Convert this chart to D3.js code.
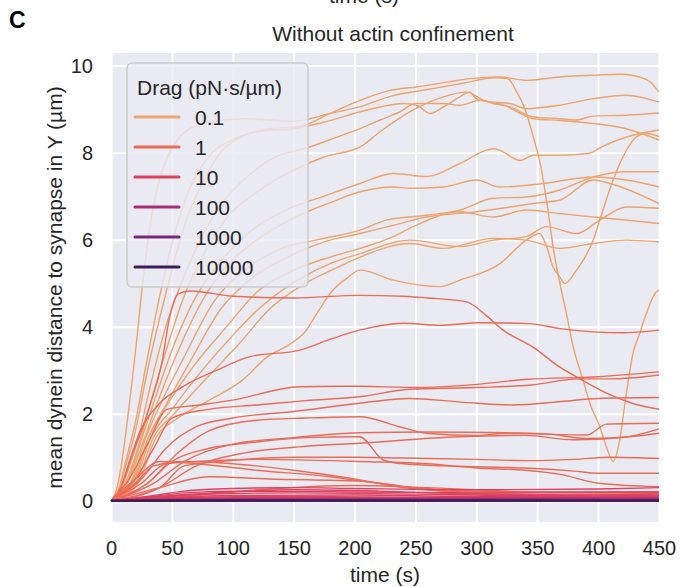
<!DOCTYPE html>
<html>
<head>
<meta charset="utf-8">
<script src="https://cdn.jsdelivr.net/npm/d3@7"></script>
<style>
  body { margin: 0; background: #fff; }
  svg { display: block; font-family: "Liberation Sans", Arial, sans-serif; }
</style>
</head>
<body>
<svg id="chart" width="683" height="587"></svg>
<script>
/* Dynein distance traces, one list per drag value; each trace is [time s, distance µm] */

const xTicks = [0, 50, 100, 150, 200, 250, 300, 350, 400, 450];
const yTicks = [0, 2, 4, 6, 8, 10];
const dragLabels = ["0.1", "1", "10", "100", "1000", "10000"];
const dragColors = ["#eda46e", "#ea6c58", "#dc4160", "#a82d76", "#76287d", "#3d1e58"];

const drag01 = [
  // plunging trace (dip to ~0.9 at 412 s)
  [[0,0],[5,0.3],[10,1.1],[15,2.2],[20,3.4],[26,5.0],[32,6.3],[40,7.4],[50,8.1],[62,8.5],[80,8.7],[110,8.78],[150,8.72],[180,8.9],[204,9.05],[230,9.3],[260,9.45],[290,9.6],[315,9.72],[325.6,9.7],[333.8,9.36],[339.3,9.05],[347.5,8.29],[353,7.68],[358.4,6.75],[363.9,5.68],[368.6,5.0],[374,4.3],[379.5,3.54],[387.7,2.77],[393.2,2.24],[401.4,1.7],[406.8,1.24],[412.3,0.9],[417.7,1.39],[423.2,2.47],[428.6,3.38],[434.1,3.84],[439.6,4.3],[447.8,4.8],[450,4.84]],
  // top trace
  [[0,0],[6,0.2],[12,0.8],[20,1.6],[30,3.0],[40,4.2],[50,5.3],[60,6.3],[75,7.3],[90,8.0],[110,8.4],[130,8.55],[155,8.6],[180,8.9],[204.5,9.2],[229,9.43],[251,9.51],[275.8,9.62],[294.6,9.7],[319,9.74],[341,9.66],[368.6,9.74],[396,9.78],[418,9.8],[440,9.68],[450,9.39]],
  [[0,0],[6,0.25],[12,0.9],[20,1.8],[30,3.3],[40,4.7],[50,5.9],[62,7.0],[80,7.9],[100,8.3],[125,8.5],[150,8.55],[175,8.7],[204.5,8.94],[221,9.05],[240,9.13],[251,9.09],[262,8.9],[273,9.05],[286.5,9.28],[294.6,9.39],[300,9.24],[314,9.16],[327.6,9.13],[341,9.01],[368.6,9.09],[396,9.24],[423,9.32],[450,9.16]],
  [[0,0],[7,0.2],[14,0.7],[22,1.4],[32,2.6],[45,4.0],[55,4.8],[70,5.8],[90,6.8],[110,7.4],[135,7.9],[160,8.1],[185,8.35],[204.5,8.55],[221,8.75],[237.5,8.94],[249.6,9.13],[273,9.13],[286.5,9.09],[303,9.2],[314,9.13],[327.6,9.05],[346.7,8.82],[368.6,8.78],[382,8.75],[396,8.84],[423,8.86],[450,8.91]],
  [[0,0],[8,0.2],[16,0.7],[24,1.4],[35,2.5],[48,3.7],[60,4.7],[75,5.6],[95,6.5],[120,7.1],[150,7.6],[175,7.9],[204.5,8.13],[221,8.48],[245.6,8.94],[273,9.28],[292,9.39],[306,9.2],[322.6,9.09],[347,8.78],[368.6,8.74],[396,8.67],[423,8.55],[450,8.29]],
  [[0,0],[8,0.15],[17,0.7],[25,1.4],[38,2.5],[52,3.6],[70,4.7],[90,5.5],[115,6.2],[145,6.7],[175,7.0],[204.5,7.29],[231.8,7.52],[259,7.45],[286.5,7.75],[313.9,8.09],[319.4,8.05],[335.8,7.82],[346.7,7.94],[368.6,7.94],[392,7.98],[405,8.16],[423.4,8.36],[450,8.52]],
  [[0,0],[9,0.15],[18,0.7],[27,1.4],[40,2.4],[56,3.5],[75,4.6],[95,5.4],[120,6.0],[150,6.5],[180,6.85],[204.5,7.1],[231.8,7.21],[245.5,7.18],[273,7.21],[300,7.37],[319.4,7.21],[355,7.29],[396,7.44],[423,7.37],[450,7.21]],
  [[0,0],[9,0.12],[19,0.6],[28,1.4],[42,2.3],[60,3.3],[85,4.6],[110,5.3],[140,5.8],[170,6.0],[204.5,6.22],[226.4,6.45],[259,6.56],[286.5,6.68],[313.9,6.95],[341,6.98],[368.6,7.14],[396,7.44],[423.4,7.56],[450,7.56]],
  [[0,0],[10,0.12],[20,0.6],[30,1.4],[45,2.2],[65,3.2],[90,4.4],[115,5.1],[145,5.6],[175,5.95],[204.5,6.14],[231.8,6.33],[259,6.52],[300,6.64],[327.6,6.75],[346.7,6.83],[368.6,6.91],[396,7.37],[409.7,7.29],[450,6.83]],
  [[0,0],[10,0.1],[21,0.6],[30,1.4],[46,2.2],[68,3.1],[95,4.0],[120,4.8],[150,5.3],[180,5.6],[204.5,5.8],[231.8,6.07],[248.2,6.3],[286.5,6.64],[313.9,6.52],[341,6.68],[368.6,6.6],[396,6.52],[423,6.45],[450,6.37]],
  [[0,0],[11,0.1],[22,0.6],[32,1.4],[50,2.1],[75,3.0],[100,3.8],[125,4.5],[155,5.1],[180,5.45],[204.5,5.68],[245.5,5.99],[286.5,5.84],[313.9,5.99],[341,6.07],[357.7,6.3],[382.3,6.14],[401.4,6.45],[423.4,6.75],[450,6.72]],
  [[0,0],[11,0.1],[23,0.55],[34,1.4],[52,2.0],[78,2.8],[105,3.6],[130,4.4],[160,5.0],[185,5.35],[204.5,5.6],[245.5,5.91],[273,5.8],[313.9,6.03],[341,5.99],[368.6,5.8],[396,5.91],[423,5.99],[450,5.95]],
  // slow riser that dips to ~5 at 373 s
  [[0,0],[12,0.1],[24,0.5],[36,1.4],[55,1.9],[80,2.3],[108,2.77],[128,3.3],[147,3.6],[160,3.9],[169,4.3],[182,4.83],[193,5.1],[204.5,5.3],[231.8,5.07],[270,4.92],[286.5,5.07],[319.4,5.45],[341,5.99],[352,6.14],[357.7,5.84],[363,5.37],[368.6,5.14],[372.7,4.99],[382.3,5.3],[396,5.99],[401.4,6.45],[412.3,7.37],[423.4,8.06],[431.6,8.37],[439.8,8.44],[450,8.37]]
];

const drag1 = [
  [[0,0],[8,0.3],[18,1.1],[25,1.6],[32,2.2],[42,3.2],[48,4.2],[55,4.75],[65,4.82],[100,4.7],[150,4.66],[204,4.72],[240,4.7],[260,4.66],[292,4.57],[308,4.26],[322,3.92],[346,3.54],[368,3.08],[387,2.77],[407,2.47],[428,2.24],[450,2.1]],
  [[0,0],[8,0.3],[15,0.9],[24,1.6],[40,2.24],[59,2.62],[87,3.0],[114,3.31],[155,3.46],[182,3.73],[204,3.92],[240,4.08],[270,4.03],[303,4.09],[343,4.07],[370,3.95],[396,3.88],[420,3.86],[450,3.92]],
  [[0,0],[15,0.5],[30,1.3],[46,2.1],[73,2.2],[100,2.31],[155,2.62],[204,2.63],[250,2.6],[290,2.65],[342,2.79],[400,2.85],[450,2.96]],
  [[0,0],[20,0.5],[35,1.2],[50,1.9],[80,2.1],[120,2.2],[160,2.3],[204,2.39],[245,2.56],[300,2.6],[345,2.66],[385,2.8],[410,2.8],[450,2.89]],
  [[0,0],[25,0.5],[45,1.2],[70,1.7],[100,1.9],[150,2.05],[204,2.24],[245,2.35],[290,2.26],[330,2.2],[370,2.28],[400,2.35],[450,2.37]],
  [[0,0],[30,0.4],[55,1.1],[80,1.6],[120,1.85],[160,1.9],[204,1.93],[237,1.7],[259,1.55],[300,1.5],[325,1.55],[391,1.51],[407,1.76],[450,1.78]],
  [[0,0],[35,0.4],[60,0.9],[100,1.3],[150,1.45],[204,1.56],[260,1.58],[325,1.56],[360,1.53],[390,1.43],[430,1.48],[450,1.55]],
  [[0,0],[40,0.3],[70,0.8],[110,1.1],[160,1.25],[204,1.32],[285,1.47],[340,1.5],[380,1.4],[420,1.45],[450,1.65]],
  [[0,0],[40,0.3],[60,0.8],[90,0.9],[150,1.0],[204,1.0],[240,0.98],[300,0.95],[342,0.92],[380,0.95],[410,1.0],[450,0.97]],
  [[0,0],[30,0.4],[50,0.9],[80,1.2],[120,1.35],[160,1.45],[204,1.47],[224,0.93],[240,0.85],[300,0.78],[340,0.75],[380,0.68],[400,0.63],[450,0.63]],
  [[0,0],[25,0.4],[45,0.85],[70,0.9],[120,0.95],[180,0.92],[204,0.9],[260,0.85],[300,0.75],[340,0.7],[370,0.6],[400,0.4],[450,0.32]],
  [[0,0],[40,0.3],[80,0.55],[130,0.5],[204,0.45],[250,0.3],[300,0.22],[450,0.17]],
  [[0,0],[20,0.5],[40,0.9],[70,0.85],[120,0.7],[180,0.55],[220,0.4],[260,0.25],[320,0.15],[450,0.12]],
  [[0,0],[20,0.4],[35,0.8],[60,0.9],[100,0.85],[150,0.7],[200,0.5],[240,0.3],[300,0.2],[450,0.18]],
  [[0,0],[60,0.1],[120,0.25],[200,0.35],[260,0.3],[350,0.2],[450,0.2]]
];

const drag10 = [
  [[0,0],[30,0.1],[60,0.22],[100,0.28],[150,0.3],[200,0.28],[300,0.25],[400,0.27],[450,0.3]],
  [[0,0],[30,0.08],[60,0.18],[100,0.22],[200,0.2],[300,0.18],[450,0.2]],
  [[0,0],[40,0.08],[80,0.15],[150,0.18],[250,0.15],[350,0.12],[450,0.15]],
  [[0,0],[40,0.06],[100,0.12],[200,0.13],[300,0.1],[450,0.1]],
  [[0,0],[50,0.05],[120,0.1],[250,0.08],[450,0.08]],
  [[0,0],[30,0.05],[100,0.08],[300,0.06],[450,0.06]],
  [[0,0],[50,0.12],[100,0.2],[150,0.25],[220,0.22],[300,0.15],[450,0.12]],
  [[0,0],[60,0.04],[200,0.05],[450,0.05]]
];

const drag100 = [
  [[0,0],[80,0.04],[200,0.05],[450,0.06]],
  [[0,0],[100,0.03],[300,0.04],[450,0.04]],
  [[0,0],[150,0.02],[450,0.03]]
];

const drag1000 = [
  [[0,0],[150,0.015],[450,0.02]],
  [[0,0],[200,0.01],[450,0.01]]
];

const drag10000 = [
  [[0,0],[450,0.005]],
  [[0,0],[450,-0.005]],
  [[0,0],[450,0]]
];

const groups = [drag01, drag1, drag10, drag100, drag1000, drag10000];

/* ---------- layout ---------- */
const svg = d3.select("#chart");
const plot = { left: 111, right: 659, top: 53, bottom: 522 };
const ink = "#262626";
const fsTick = 20, fsLabel = 21;

const x = d3.scaleLinear().domain([0, 450]).range([plot.left, plot.right]);
const y = d3.scaleLinear().domain([-0.49, 10.29]).range([plot.bottom, plot.top]);

svg.append("rect")
  .attr("x", plot.left).attr("y", plot.top)
  .attr("width", plot.right - plot.left).attr("height", plot.bottom - plot.top)
  .attr("fill", "#eaeaf2");

// grid
svg.append("g")
  .attr("transform", `translate(0,${plot.bottom})`)
  .call(d3.axisBottom(x).tickValues(xTicks).tickSize(-(plot.bottom - plot.top)).tickFormat(""))
  .call(g => g.select(".domain").remove())
  .call(g => g.selectAll("line").attr("stroke", "#fff").attr("stroke-width", 2));
svg.append("g")
  .attr("transform", `translate(${plot.left},0)`)
  .call(d3.axisLeft(y).tickValues(yTicks).tickSize(-(plot.right - plot.left)).tickFormat(""))
  .call(g => g.select(".domain").remove())
  .call(g => g.selectAll("line").attr("stroke", "#fff").attr("stroke-width", 2));

// traces
const line = d3.line().x(d => x(d[0])).y(d => y(d[1])).curve(d3.curveMonotoneX);
const gLines = svg.append("g");
groups.forEach((traces, i) => {
  gLines.append("g").selectAll("path")
    .data(traces)
    .join("path")
    .attr("d", line)
    .attr("fill", "none")
    .attr("stroke", dragColors[i])
    .attr("stroke-width", i === 5 ? 2 : 1.4)
    .attr("stroke-linejoin", "round");
});

// tick labels
svg.append("g")
  .attr("transform", `translate(0,${plot.bottom})`)
  .call(d3.axisBottom(x).tickValues(xTicks).tickSize(0).tickPadding(19))
  .call(g => g.select(".domain").remove())
  .call(g => g.selectAll("text").attr("fill", ink).attr("font-size", fsTick).attr("font-family", null));
svg.append("g")
  .attr("transform", `translate(${plot.left},0)`)
  .call(d3.axisLeft(y).tickValues(yTicks).tickSize(0).tickPadding(18))
  .call(g => g.select(".domain").remove())
  .call(g => g.selectAll("text").attr("fill", ink).attr("font-size", fsTick).attr("font-family", null));

// labels
svg.append("text")
  .attr("x", (plot.left + plot.right) / 2).attr("y", 582)
  .attr("text-anchor", "middle").attr("font-size", fsLabel).attr("fill", ink)
  .text("time (s)");
svg.append("text")
  .attr("transform", `translate(62,${(plot.top + plot.bottom) / 2}) rotate(-90)`)
  .attr("text-anchor", "middle").attr("font-size", fsLabel).attr("fill", ink)
  .text("mean dynein distance to synapse in Y (µm)");
svg.append("text")
  .attr("x", 393).attr("y", 41)
  .attr("text-anchor", "middle").attr("font-size", fsLabel).attr("fill", ink)
  .text("Without actin confinement");
svg.append("text")
  .attr("x", 9).attr("y", 28)
  .attr("font-size", 23).attr("font-weight", "bold").attr("fill", "#000")
  .text("C");
// tail of the x label of the panel above, cut by the top edge as in the source figure
svg.append("text")
  .attr("x", 364).attr("y", 3)
  .attr("text-anchor", "middle").attr("font-size", fsLabel).attr("fill", ink)
  .text("time (s)");

// legend
const leg = svg.append("g");
leg.append("rect")
  .attr("x", 127).attr("y", 63).attr("width", 181).attr("height", 224).attr("rx", 5)
  .attr("fill", "#eaeaf2").attr("fill-opacity", 0.8)
  .attr("stroke", "#cccccc").attr("stroke-width", 1.5);
leg.append("text")
  .attr("x", 137).attr("y", 95)
  .attr("font-size", fsLabel).attr("fill", ink)
  .text("Drag (pN·s/µm)");
const rows = leg.selectAll("g.row")
  .data(dragLabels)
  .join("g")
  .attr("class", "row")
  .attr("transform", (d, i) => `translate(0,${117 + i * 30})`);
rows.append("line")
  .attr("x1", 135).attr("x2", 179)
  .attr("stroke", (d, i) => dragColors[i]).attr("stroke-width", 3).attr("stroke-linecap", "round");
rows.append("text")
  .attr("x", 195).attr("y", 7.5)
  .attr("font-size", fsLabel).attr("fill", ink)
  .text(d => d);
</script>
</body>
</html>
